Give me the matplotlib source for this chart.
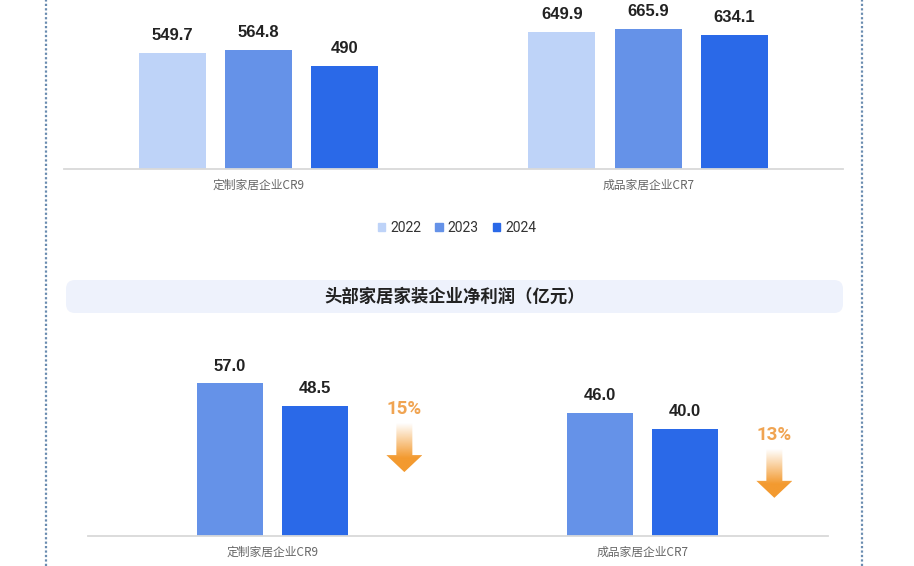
import numpy as np
import matplotlib.pyplot as plt
from matplotlib.patches import Patch, FancyBboxPatch, Polygon

plt.rcParams['font.family'] = ['Noto Sans CJK SC', 'DejaVu Sans']

# Data
categories = ["定制家居企业CR9", "成品家居企业CR7"]
years_top = ["2022", "2023", "2024"]
revenue = [[549.7, 649.9], [564.8, 665.9], [490, 634.1]]   # per year, per category
revenue_labels = [["549.7", "649.9"], ["564.8", "665.9"], ["490", "634.1"]]
years_bottom = ["2023", "2024"]
profit = [[57.0, 46.0], [48.5, 40.0]]
drop_pct = ["15%", "13%"]
title_bottom = "头部家居家装企业净利润（亿元）"

colors = {"2022": "#BED3F8", "2023": "#6592E8", "2024": "#2A69E8"}

W, H = 914, 566
fig = plt.figure(figsize=(W / 100, H / 100), dpi=100)
fig.patch.set_facecolor("white")


def px_axes(x0, y_top, x1, y_bot):
    return fig.add_axes([x0 / W, 1 - y_bot / H, (x1 - x0) / W, (y_bot - y_top) / H])


def style(ax):
    for s in ["top", "right", "left"]:
        ax.spines[s].set_visible(False)
    ax.spines["bottom"].set_color("#D9D9D9")
    ax.spines["bottom"].set_linewidth(1.3)
    ax.set_yticks([])
    ax.tick_params(axis="x", length=0, pad=7, labelsize=8.5, labelcolor="#666666")
    ax.set_xlim(-0.5, 1.5)
    ax.patch.set_alpha(0)


x = np.arange(len(categories))

# Top chart
ax1 = px_axes(64, 0, 843, 169)
style(ax1)
ax1.set_ylim(0, 801)
offs = [-0.222, 0, 0.221]
for i, yr in enumerate(years_top):
    bars = ax1.bar(x + offs[i], revenue[i], width=0.172, color=colors[yr])
    for b, lab in zip(bars, revenue_labels[i]):
        ax1.annotate(lab, (b.get_x() + b.get_width() / 2, b.get_height()),
                     xytext=(0, 7), textcoords="offset points", ha="center", va="bottom",
                     fontsize=12, fontweight="bold", color="#222222",
                     family="Liberation Sans", annotation_clip=False)
ax1.set_xticks(x)
ax1.set_xticklabels(categories)

handles = [Patch(color=colors[y], label=y) for y in years_top]
fig.legend(handles=handles, loc="center", bbox_to_anchor=(457 / W, 1 - 228 / H), ncol=3,
           frameon=False, handlelength=0.55, handleheight=0.55, handletextpad=0.35,
           columnspacing=1.0, prop={"family": "Roboto", "size": 10}, labelcolor="#333333")

# Bottom chart
ax2 = px_axes(88, 330, 828, 536)
style(ax2)
ax2.set_ylim(0, 76.9)
offs2 = [-0.116, 0.114]
for i, yr in enumerate(years_bottom):
    bars = ax2.bar(x + offs2[i], profit[i], width=0.18, color=colors[yr])
    for b, v in zip(bars, profit[i]):
        ax2.annotate(f"{v:.1f}", (b.get_x() + b.get_width() / 2, b.get_height()),
                     xytext=(0, 7), textcoords="offset points", ha="center", va="bottom",
                     fontsize=12, fontweight="bold", color="#222222",
                     family="Liberation Sans", annotation_clip=False)
ax2.set_xticks(x)
ax2.set_xticklabels(categories)

# Overlay in pixel coordinates
ov = fig.add_axes([0, 0, 1, 1], zorder=-1)
ov.set_xlim(0, W)
ov.set_ylim(H, 0)
ov.axis("off")

ov.add_patch(FancyBboxPatch((66, 280), 777, 33, boxstyle="round,pad=0,rounding_size=9",
                            fc="#EEF2FC", ec="none"))
ov.text(W / 2 - 2, 297, title_bottom, ha="center", va="center", fontsize=12.5,
        fontweight="bold", color="#222222")

for xv in (46, 862):
    ov.axvline(xv, color="#6A8CB0", lw=1.6, ls=(0, (1, 1)))

# Decline arrows next to each 2024 bar
ov2 = fig.add_axes([0, 0, 1, 1], zorder=5)
ov2.set_xlim(0, W)
ov2.set_ylim(H, 0)
ov2.axis("off")
rgba = np.zeros((100, 1, 4))
rgba[..., :3] = np.array([0xF3, 0x9A, 0x30]) / 255
rgba[:, 0, 3] = np.clip(np.linspace(-0.05, 1.4, 100), 0, 1)
for j, v in enumerate(profit[1]):
    dx, dy = ax2.transData.transform((x[j] + 0.355, v))
    cx, ty = dx, H - dy
    ov2.text(cx, ty + 3 + 3 * j, drop_pct[j], ha="center", va="center", fontsize=13.5,
             fontweight="bold", color="#F0A452", family="Roboto")
    top = ty + 15 + 3 * j
    bot = top + 51
    poly = Polygon([(cx - 8, top), (cx + 8, top), (cx + 8, bot - 17), (cx + 18, bot - 17),
                    (cx, bot), (cx - 18, bot - 17), (cx - 8, bot - 17)],
                   closed=True, fc="none", ec="none")
    ov2.add_patch(poly)
    im = ov2.imshow(rgba, extent=(cx - 18, cx + 18, bot, top), aspect="auto",
                    interpolation="bilinear")
    im.set_clip_path(poly)

fig.savefig("out.png", dpi=100)
